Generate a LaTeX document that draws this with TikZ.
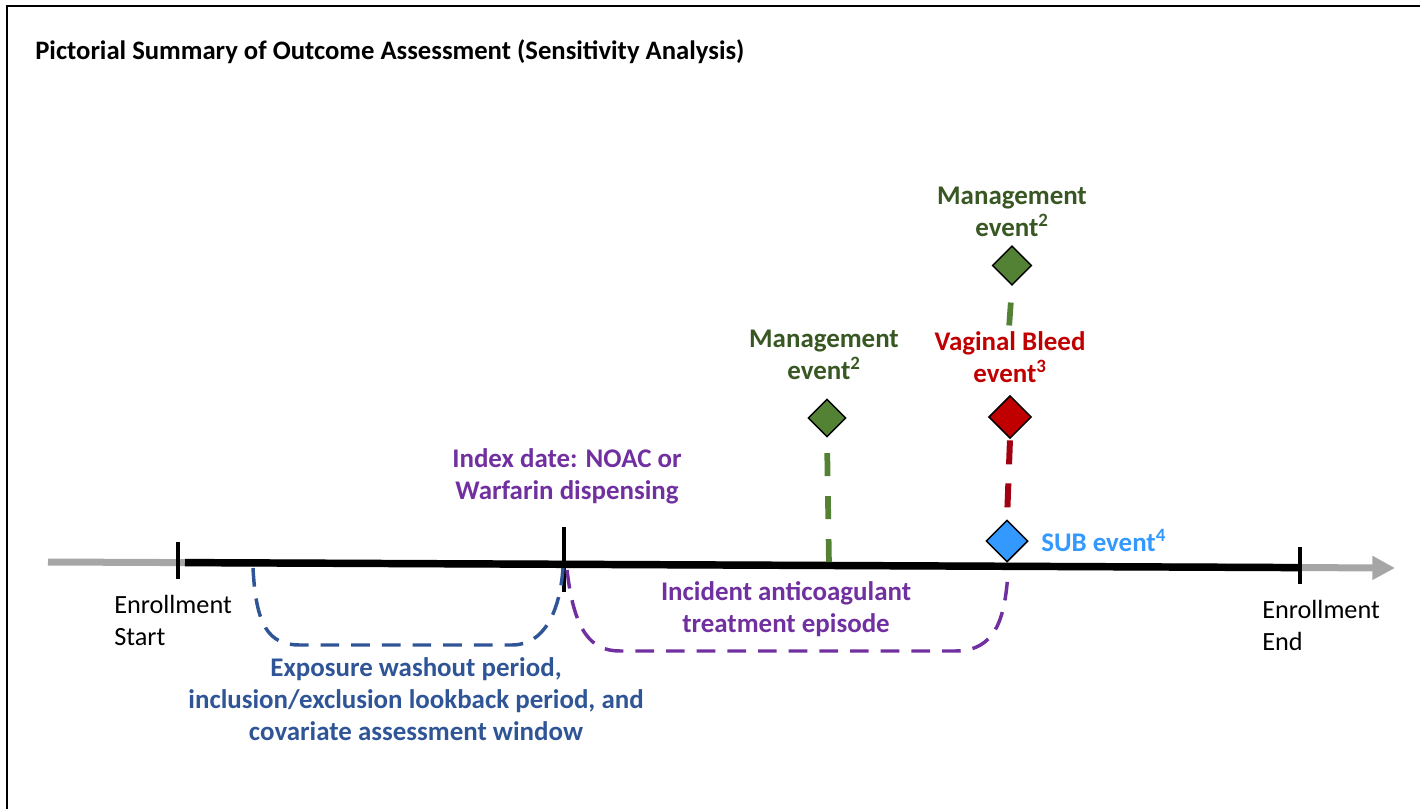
\documentclass[tikz,border=0pt]{standalone}
\usepackage{fontspec}
\setmainfont{Carlito}
\usetikzlibrary{shapes.geometric,arrows.meta}
\definecolor{dgreen}{HTML}{385723}
\definecolor{mgreen}{HTML}{548235}
\definecolor{dred}{HTML}{C00000}
\definecolor{lred}{HTML}{A20010}
\definecolor{sblue}{HTML}{3399FF}
\definecolor{navy}{HTML}{2F5597}
\definecolor{purp}{HTML}{7030A0}
\definecolor{axgray}{HTML}{A6A6A6}
\tikzset{
  lbl/.style={font=\fontsize{20.2}{24}\selectfont\bfseries, align=center, inner sep=0pt},
  plainlbl/.style={font=\fontsize{19.7}{24}\selectfont, align=left, inner sep=0pt},
  event/.style={diamond, draw=black, line width=1.1pt, inner sep=0pt, minimum width=#1, minimum height=#1},
  gline/.style={draw=mgreen, line width=4.3pt, dash pattern=on 17.25pt off 15pt},
  rline/.style={draw=lred, line width=4.5pt, dash pattern=on 18pt off 14.25pt},
  tick/.style={draw=black, line width=3pt},
  bracket/.style={line width=2.6pt, dash pattern=on 14pt off 9pt},
}
\begin{document}
\begin{tikzpicture}[x=0.75pt,y=-0.75pt]
\useasboundingbox (0,0) rectangle (1420,809);
\begin{scope}
\clip (0,0) rectangle (1420,809);
\draw[line width=1.5pt] (7,6) rectangle (1440,830);
\end{scope}
\node[anchor=base west, inner sep=0pt, font=\fontsize{20}{24}\selectfont\bfseries] (title) at (35,60) {Pictorial Summary of Outcome Assessment (Sensitivity Analysis)};

% axis
\coordinate (axL) at (48,562);
\coordinate (axR) at (1395,568);
\coordinate (blS) at (185,562.6);
\coordinate (blE) at (1300,567.6);
\draw[axgray, line width=5.25pt, -{Triangle[length=17pt,width=17pt]}] (axL) -- (axR);
\draw[black, line width=5.6pt] (blS) -- (blE);
\draw[tick] (178,542) -- (178,579);
\draw[tick] (564,527) -- (564,592);
\draw[tick] (1300,547) -- (1300,584);

\node[plainlbl, anchor=west] (estart) at (114,620) {Enrollment\\Start};
\node[plainlbl, anchor=west] (eend) at (1262,625) {Enrollment\\End};

% brackets
\coordinate (b1) at (253,568);
\coordinate (b2) at (563,568);
\draw[navy, bracket] (b1) .. controls (256,625) and (268,645) .. (300,645) -- (512,645) .. controls (545,645) and (560,610) .. (b2);
\coordinate (p1) at (567,570);
\coordinate (p2) at (1008,572);
\draw[purp, bracket] (p1) .. controls (574,630) and (590,651) .. (620,651) -- (955,651) .. controls (995,651) and (1005,620) .. (p2);

\node[lbl, text=navy] (expo) at (416,699) {Exposure washout period,\\inclusion/exclusion lookback period, and\\covariate assessment window};
\node[lbl, text=purp] (incid) at (786,609) {Incident anticoagulant\\treatment episode};
\node[lbl, text=purp] (index) at (567,476) {Index date: NOAC or\\Warfarin dispensing};

% events
\node[event=28.5pt, fill=mgreen] (mg1) at (827,418) {};
\node[event=29.5pt, fill=mgreen] (mg2) at (1012,265.5) {};
\node[event=32pt, fill=dred] (vb) at (1010,417) {};
\node[event=31.5pt, fill=sblue] (sub) at (1007,541) {};

\node[lbl, text=dgreen] (mg1l) at (824,355) {Management\\event\textsuperscript{2}};
\node[lbl, text=dgreen] (mg2l) at (1012,212) {Management\\event\textsuperscript{2}};
\node[lbl, text=dred] (vbl) at (1010,357) {Vaginal Bleed\\event\textsuperscript{3}};
\node[lbl, text=sblue, anchor=west] (subl) at (1041,540) {SUB event\textsuperscript{4}};

\coordinate (ax1) at (829,565.5);
\coordinate (g2end) at (1009,328);
\draw[gline, shorten <=11.5pt] (mg1.south) -- (ax1);
\draw[gline, shorten <=12.5pt] (mg2.south) -- (g2end);
\draw[rline, shorten <=1pt] (vb.south) -- (sub.north);
\end{tikzpicture}
\end{document}
